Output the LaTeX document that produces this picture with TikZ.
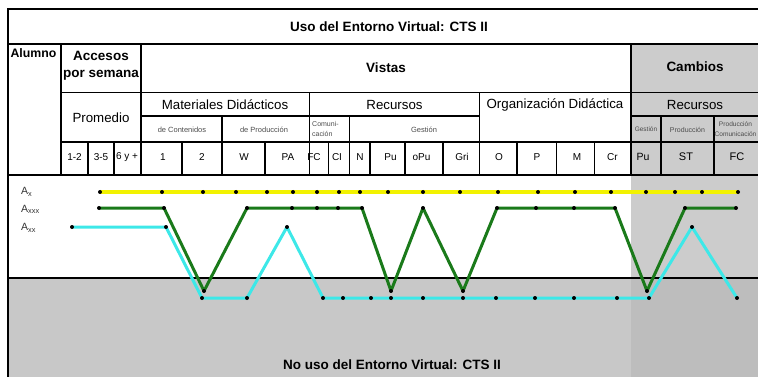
\documentclass[tikz,border=0pt]{standalone}
\usepackage{fontspec}
\setmainfont{Liberation Sans}
\usetikzlibrary{calc}
\definecolor{usoamarillo}{HTML}{F2F200}
\definecolor{usoverde}{HTML}{1A7A1A}
\definecolor{usocian}{HTML}{3DE8E8}
\definecolor{nousogris}{HTML}{C8C8C8}
\definecolor{cambiogris}{HTML}{CCCCCC}
\definecolor{cambiooscuro}{HTML}{BDBDBD}
\def\fsize#1{\fontsize{#1}{#1}\selectfont}
\tikzset{
  negrita/.style={font=\fsize{13.5}\bfseries, inner sep=0pt},
  rotulo/.style={font=\fsize{13.3}, inner sep=0pt},
  chico/.style={font=\fsize{7.5}, text=black!70, inner sep=0pt, align=center},
  columna/.style={font=\fsize{10}, inner sep=0pt},
  linea/.style={line width=1.6pt},
  serie/.style={line width=3pt, line join=round},
  punto/.style={fill=black}
}

\begin{document}
\begin{tikzpicture}[x=1pt,y=-1pt]
		%%%%% START %%%%%
		\useasboundingbox (0,0) rectangle (758,377);

		% fondos
		\fill[cambiogris] (631,44) rectangle (758,278);
		\fill[nousogris] (8,278) rectangle (758,377);
		\fill[cambiooscuro] (631,278) rectangle (758,377);

		% marco y filas
		\draw[line width=2pt] (758,9) -- (8,9) -- (8,377);
		\draw[linea] (8,44) -- (758,44);
		\draw[linea] (61,92.5) -- (758,92.5);
		\draw[linea] (141,116) -- (479.5,116);
		\draw[linea] (631,116) -- (758,116);
		\draw[linea] (61,142) -- (758,142);
		\draw[linea] (8,175) -- (758,175);
		\draw[linea] (8,278) -- (758,278);

		% columnas
		\foreach \x in {61,141,631} \draw[linea] (\x,44) -- (\x,175);
		\foreach \x in {309.5,479.5} \draw[linea] (\x,92.5) -- (\x,175);
		\foreach \x in {222,349.5,661,714} \draw[linea] (\x,116) -- (\x,175);
		\foreach \x in {87.7,114,182,265,328.5,370,405,443,517,556.5,594.5}
			\draw[linea] (\x,142) -- (\x,175);

		% textos de cabecera
		\node[negrita] (titulo) at (389,26.5) {Uso del Entorno Virtual: CTS II};
		\node[negrita, font=\fsize{12.3}\bfseries] (alumno) at (33.5,53) {Alumno};
		\node[negrita, align=center, font=\fontsize{13.5}{16.5}\selectfont\bfseries] (accesos) at (101,66) {Accesos\\por semana};
		\node[negrita] (vistas) at (386,68) {Vistas};
		\node[negrita] (cambios) at (695,67) {Cambios};
		\node[rotulo] (promedio) at (101,117.5) {Promedio};
		\node[rotulo] (materiales) at (225,104.5) {Materiales Didácticos};
		\node[rotulo] (recursos) at (394.5,104.5) {Recursos};
		\node[rotulo] (organiz) at (555,104.5) {Organización Didáctica};
		\node[rotulo] (recursosc) at (695,104.5) {Recursos};
		\node[chico] (decont) at (182,129.5) {de Contenidos};
		\node[chico] (deprod) at (264,129.5) {de Producción};
		\node[chico, align=left, anchor=west, font=\fontsize{7}{10}\selectfont] (comunic) at (312,129) {Comuni-\\cación};
		\node[chico] (gestion) at (424,129.5) {Gestión};
		\node[chico, font=\fsize{6.5}] (gestionc) at (646,129.5) {Gestión};
		\node[chico, font=\fsize{7}] (produc) at (687.5,129.5) {Producción};
		\node[chico, font=\fontsize{6.6}{9.5}\selectfont] (producom) at (735.5,129) {Producción\\Comunicación};

		\foreach \x/\t [count=\i] in {74.5/1-2,101/3-5,127/6 y +,163/1,202/2,244/W,288/PA,314/FC,337/CI,360/N,390.5/Pu,421.5/oPu,462/Gri,499/O,537/P,577/M,612.5/Cr}
			\node[columna] (c\i) at (\x,157) {\t};
		\node[columna, font=\fsize{10.5}] (c18) at (643,157) {Pu};
		\node[columna, font=\fsize{11}] (c19) at (686,157) {ST};
		\node[columna, font=\fsize{11}] (c20) at (737,157) {FC};

		% alumnos
		\node[font=\fsize{10.5}, text=black!80, anchor=west, inner sep=0pt] (lax) at (21,192) {A\textsubscript{x}};
		\node[font=\fsize{10.5}, text=black!80, anchor=west, inner sep=0pt] (laxxx) at (21,209.5) {A\textsubscript{xxx}};
		\node[font=\fsize{10.5}, text=black!80, anchor=west, inner sep=0pt] (laxx) at (21,228) {A\textsubscript{xx}};

		\node[negrita] (nouso) at (392,365) {No uso del Entorno Virtual: CTS II};

		% series
		\foreach \x [count=\i] in {100,162,203,236,267,293,317,339,360,388,423,460,498,538,575,611,646,675,702,738}
			\coordinate (ax\i) at (\x,192);
		\foreach \x/\y [count=\i] in {99/208,164/208,204/291,247/208,292/208,317/208,338/208,362/208,391/291,423/208,463/291,497/208,536/208,574/208,615/208,647/291,685/208,736/208}
			\coordinate (axxx\i) at (\x,\y);
		\foreach \x/\y [count=\i] in {72/227,166/227,202/298,247/298,287/227,323/298,343/298,371/298,391/298,423/298,463/298,496/298,535/298,574/298,617/298,649/298,692/227,737/298}
			\coordinate (axx\i) at (\x,\y);

		\draw[serie, usoamarillo] (ax1) \foreach \i in {2,...,20} {-- (ax\i)};
		\draw[serie, usoverde] (axxx1) \foreach \i in {2,...,18} {-- (axxx\i)};
		\draw[serie, usocian] (axx1) \foreach \i in {2,...,18} {-- (axx\i)};

		\foreach \i in {1,...,20} \fill[punto] (ax\i) circle (2pt);
		\foreach \i in {1,...,18} \fill[punto] (axxx\i) circle (2pt);
		\foreach \i in {1,...,18} \fill[punto] (axx\i) circle (2pt);
		%%%%% END %%%%%
\end{tikzpicture}
\end{document}
